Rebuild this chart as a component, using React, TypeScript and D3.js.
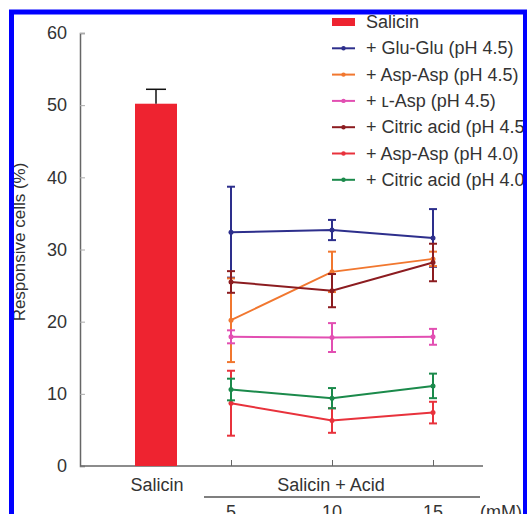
import { useEffect, useRef } from "react";
import * as d3 from "d3";

// concentrations of the added acid (mM)
const concentrations = [5, 10, 15];

// salicin alone
const salicinMean = 50.2;
const salicinErr = 2.0;

// series names
const seriesNames = [
  "+ Glu-Glu (pH 4.5)",
  "+ Asp-Asp (pH 4.5)",
  "+ \u029F-Asp (pH 4.5)",
  "+ Citric acid (pH 4.5)",
  "+ Asp-Asp (pH 4.0)",
  "+ Citric acid (pH 4.0)",
];
const seriesColors = ["#2d2f8c", "#f1772f", "#e24fb2", "#8c1c20", "#e8323c", "#1b8a4b"];

// mean responsive cells (%) per concentration
const gluGlu = [32.4, 32.7, 31.6];
const aspAsp45 = [20.2, 26.9, 28.7];
const lAsp = [17.9, 17.8, 17.9];
const citric45 = [25.5, 24.3, 28.2];
const aspAsp40 = [8.7, 6.3, 7.4];
const citric40 = [10.6, 9.4, 11.1];

// error bars
const gluGluErr = [6.3, 1.4, 4.0];
const aspAsp45Err = [5.8, 2.8, 1.0];
const lAspErr = [0.9, 2.0, 1.1];
const citric45Err = [1.5, 2.3, 2.6];
const aspAsp40Err = [4.5, 1.7, 1.5];
const citric40Err = [1.5, 1.4, 1.7];

const seriesMeans = [gluGlu, aspAsp45, lAsp, citric45, aspAsp40, citric40];
const seriesErrs = [gluGluErr, aspAsp45Err, lAspErr, citric45Err, aspAsp40Err, citric40Err];

const yTicks = [0, 10, 20, 30, 40, 50, 60];

const FONT = "'Liberation Sans', Arial, sans-serif";
const TEXT = "#333";

export default function App() {
  const yAxisRef = useRef<SVGGElement>(null);
  const xAxisRef = useRef<SVGGElement>(null);

  const width = 527;
  const height = 514;

  // scales
  const y = d3.scaleLinear().domain([0, 60]).range([466, 33]);
  const xConc = d3.scaleLinear().domain([5, 15]).range([231, 433]);
  const xBar = d3.scaleBand().domain(["Salicin"]).range([135, 177]).padding(0);

  const line = d3
    .line<number>()
    .x((_, i) => xConc(concentrations[i]))
    .y((d) => y(d));

  useEffect(() => {
    // y axis, ticks pointing inward
    const yAxis = d3.axisLeft(y).tickValues(yTicks).tickSize(-5).tickPadding(13);
    const gy = d3.select(yAxisRef.current).call(yAxis as any);
    gy.select(".domain").attr("stroke", "#666").attr("stroke-width", 1.5);
    gy.selectAll(".tick line").attr("stroke", "#aaa");
    gy.selectAll(".tick text")
      .attr("fill", TEXT)
      .attr("font-size", 18)
      .attr("font-family", FONT);

    // x axis for the concentrations, ticks pointing up
    const xAxis = d3.axisBottom(xConc).tickValues(concentrations).tickSize(-6).tickFormat(() => "");
    const gx = d3.select(xAxisRef.current).call(xAxis as any);
    gx.select(".domain").remove();
    gx.selectAll(".tick line").attr("stroke", "#666");
  }, []);

  return (
    <svg
      width={width}
      height={height}
      style={{ position: "absolute", left: 0, top: 0, background: "#fff" }}
      fontFamily={FONT}
    >
      <defs>
        <clipPath id="frame">
          <rect x={14} y={14} width={510} height={500} />
        </clipPath>
      </defs>

      <g clipPath="url(#frame)">
        {/* y label */}
        <text
          transform={`translate(25,242) rotate(-90)`}
          textAnchor="middle"
          fontSize={17}
          fill={TEXT}
        >
          Responsive cells (%)
        </text>

        <g ref={yAxisRef} transform="translate(80,0)" />
        <line x1={80} x2={483} y1={466} y2={466} stroke="#666" strokeWidth={1.5} />
        <g ref={xAxisRef} transform="translate(0,466)" />

        {/* salicin bar with upper error bar */}
        <rect
          x={xBar("Salicin")}
          y={y(salicinMean)}
          width={xBar.bandwidth()}
          height={y(0) - y(salicinMean)}
          fill="#ee2330"
        />
        <line
          x1={xBar("Salicin")! + xBar.bandwidth() / 2}
          x2={xBar("Salicin")! + xBar.bandwidth() / 2}
          y1={y(salicinMean)}
          y2={y(salicinMean + salicinErr)}
          stroke="#111"
          strokeWidth={1.5}
        />
        <line
          x1={xBar("Salicin")! + xBar.bandwidth() / 2 - 10}
          x2={xBar("Salicin")! + xBar.bandwidth() / 2 + 10}
          y1={y(salicinMean + salicinErr)}
          y2={y(salicinMean + salicinErr)}
          stroke="#111"
          strokeWidth={1.5}
        />

        {/* line series with error bars */}
        {seriesMeans.map((means, s) => (
          <g key={s} stroke={seriesColors[s]} fill={seriesColors[s]}>
            <path d={line(means) ?? ""} fill="none" strokeWidth={2} />
            {means.map((m, i) => {
              const cx = xConc(concentrations[i]);
              const e = seriesErrs[s][i];
              return (
                <g key={i} strokeWidth={2}>
                  <line x1={cx} x2={cx} y1={y(m - e)} y2={y(m + e)} />
                  <line x1={cx - 4} x2={cx + 4} y1={y(m - e)} y2={y(m - e)} />
                  <line x1={cx - 4} x2={cx + 4} y1={y(m + e)} y2={y(m + e)} />
                  <circle cx={cx} cy={y(m)} r={2.5} stroke="none" />
                </g>
              );
            })}
          </g>
        ))}

        {/* category labels */}
        <text x={157} y={491} textAnchor="middle" fontSize={18} fill={TEXT}>
          Salicin
        </text>
        <text x={331} y={491} textAnchor="middle" fontSize={18} fill={TEXT}>
          Salicin + Acid
        </text>
        <line x1={204} x2={480} y1={497} y2={497} stroke="#555" strokeWidth={1.5} />
        {concentrations.map((c) => (
          <text key={c} x={xConc(c)} y={518} textAnchor="middle" fontSize={18} fill={TEXT}>
            {c}
          </text>
        ))}
        <text x={480} y={518} fontSize={18} fill={TEXT}>
          (mM)
        </text>

        {/* legend */}
        <g transform="translate(332,22)">
          <rect x={0} y={-4} width={23} height={8} fill="#ee2330" />
          <text x={34} y={6} fontSize={18} fill={TEXT}>
            Salicin
          </text>
          {seriesNames.map((name, i) => (
            <g key={name} transform={`translate(0,${(i + 1) * 26.3})`}>
              <line x1={0} x2={23} y1={0} y2={0} stroke={seriesColors[i]} strokeWidth={2} />
              <circle cx={11.5} cy={0} r={2.2} fill={seriesColors[i]} />
              <text x={34} y={6} fontSize={18} fill={TEXT}>
                {name}
              </text>
            </g>
          ))}
        </g>
      </g>

      {/* blue frame */}
      <path d="M11.5,514 V12 H525.5 V514" fill="none" stroke="#0000ff" strokeWidth={5} />
    </svg>
  );
}
